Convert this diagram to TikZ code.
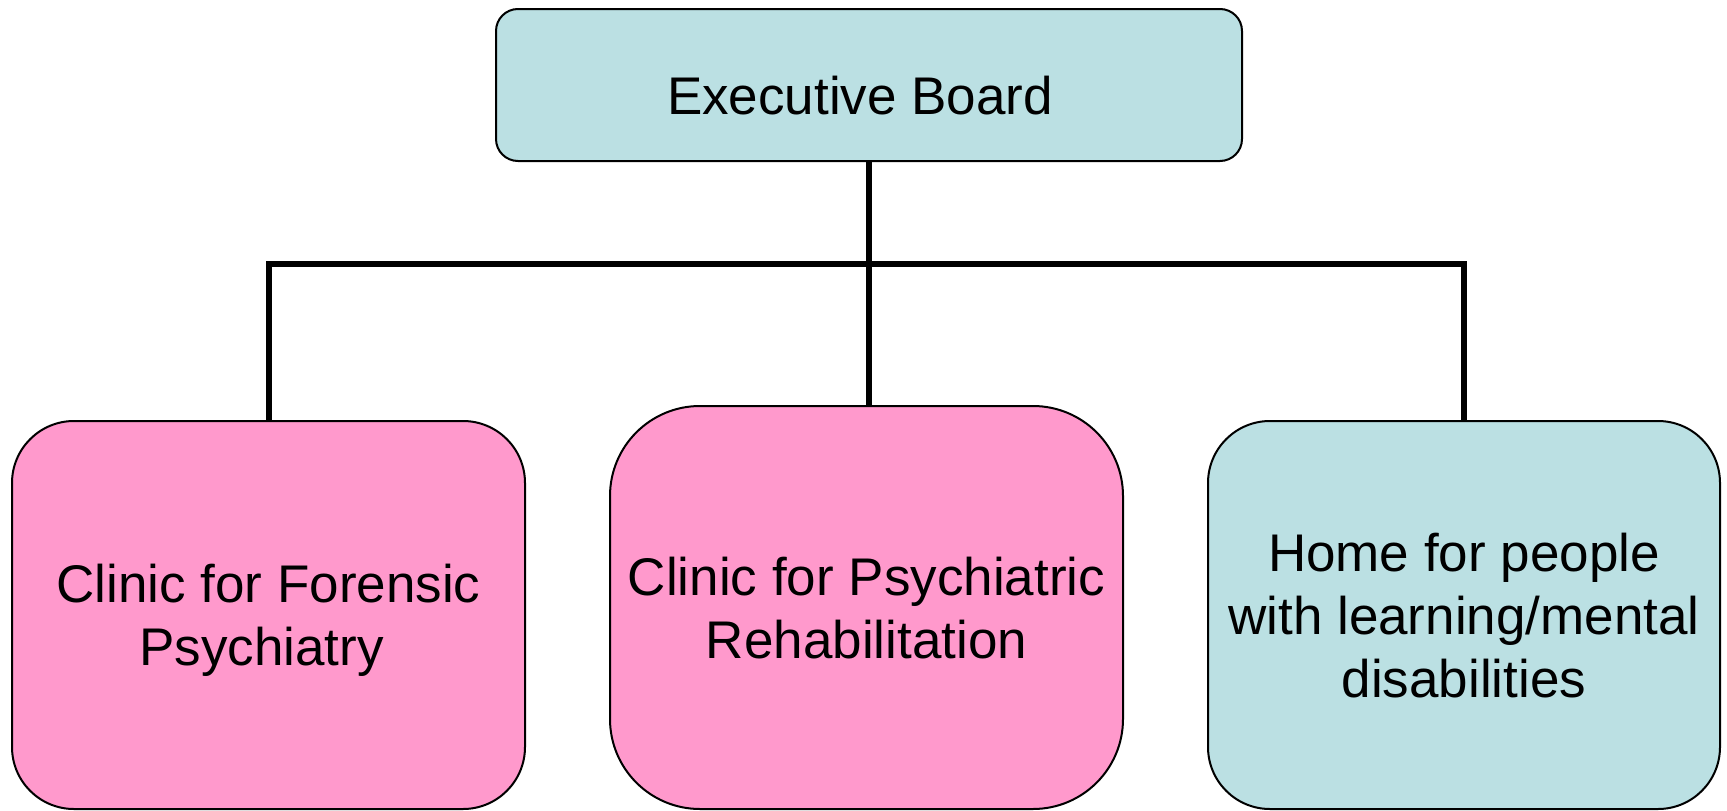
\documentclass[tikz,border=0pt]{standalone}
\usepackage{fontspec}
\setmainfont{Liberation Sans}
\definecolor{boxblue}{RGB}{187,224,227}
\definecolor{boxpink}{RGB}{255,153,204}
\begin{document}
\begin{tikzpicture}[x=1pt,y=-1pt,
  box/.style={draw=black, line width=2pt, align=center, inner sep=0pt,
    font=\fontsize{53}{63}\selectfont, text depth=0pt},
  conn/.style={draw=black, line width=6pt}]
\useasboundingbox[fill=white] (0,0) rectangle (1727,811);
\node[box, fill=boxblue, rounded corners=22pt, minimum width=746pt,
  minimum height=152pt, text height=58pt] (exec) at (869,85) {Executive Board\hspace*{18pt}};
\node[box, fill=boxpink, rounded corners=62pt, minimum width=513pt,
  minimum height=388pt] (forensic) at (268.5,615) {Clinic for Forensic\\Psychiatry\hspace*{14pt}};
\node[box, fill=boxpink, rounded corners=90pt, minimum width=513pt,
  minimum height=403pt] (rehab) at (866.5,607.5) {Clinic for Psychiatric\\Rehabilitation};
\node[box, fill=boxblue, rounded corners=62pt, minimum width=512pt,
  minimum height=388pt] (home) at (1464,615) {Home for people\\with learning/mental\\disabilities};
\path (exec.south) ++(0,102) coordinate (j);
\draw[conn] (exec.south) -- (j);
\draw[conn] (j) -| (forensic.north);
\draw[conn] (j) -| (home.north);
\draw[conn] (j) -- (j |- rehab.north);
\end{tikzpicture}
\end{document}
